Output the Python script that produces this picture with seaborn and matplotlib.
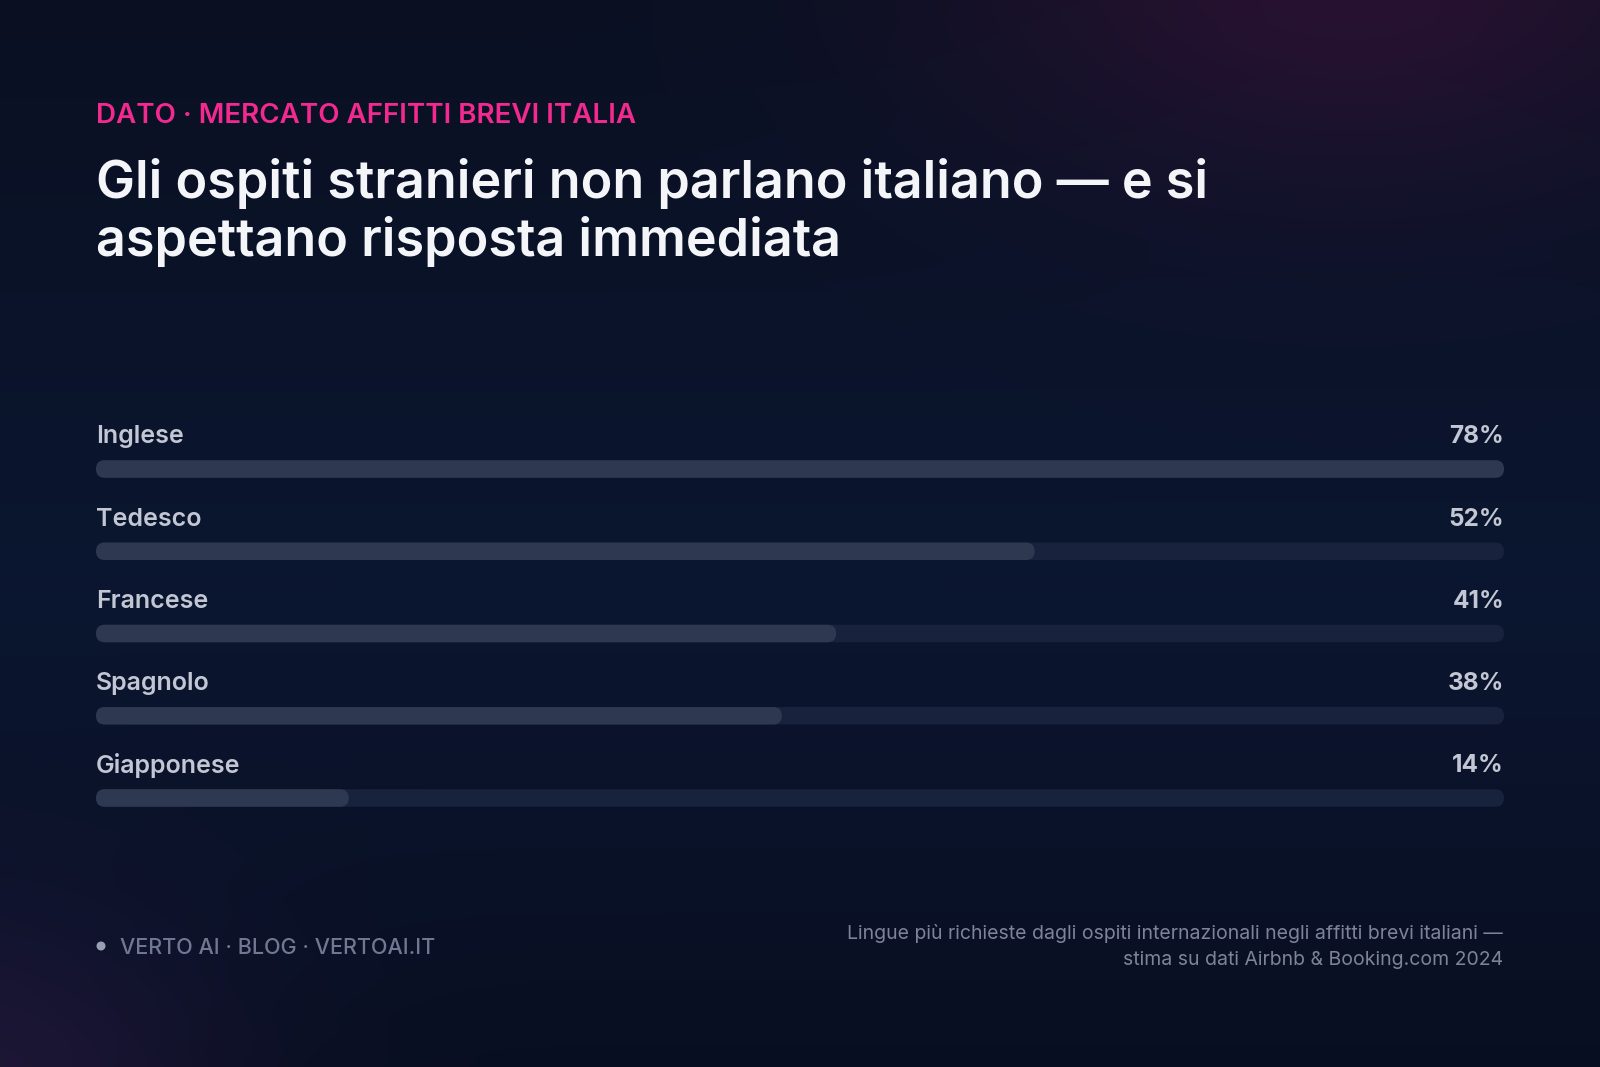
import numpy as np
import pandas as pd
import matplotlib.pyplot as plt
import seaborn as sns
from matplotlib.patches import FancyBboxPatch, Ellipse

# Dati
lingue = ['Inglese', 'Tedesco', 'Francese', 'Spagnolo', 'Giapponese']
quote = [78, 52, 41, 38, 14]
etichette = ['78%', '52%', '41%', '38%', '14%']
scala_max = 78

occhiello = 'DATO · MERCATO AFFITTI BREVI ITALIA'
titolo_1 = 'Gli ospiti stranieri non parlano italiano — e si'
titolo_2 = 'aspettano risposta immediata'
firma = 'VERTO AI · BLOG · VERTOAI.IT'
fonte_1 = 'Lingue più richieste dagli ospiti internazionali negli affitti brevi italiani —'
fonte_2 = 'stima su dati Airbnb & Booking.com 2024'

sns.set_theme(style='white')
plt.rcParams['font.family'] = ['Inter', 'DejaVu Sans']

W, H = 1600, 1067
fig = plt.figure(figsize=(16, 10.67), dpi=100)

# Sfondo sfumato
bg = fig.add_axes([0, 0, 1, 1])
bg.axis('off')
yy, xx = np.mgrid[0:H, 0:W].astype(float)
t = yy / H
top = np.array([10, 16, 34]) / 255
mid = np.array([11, 22, 48]) / 255
bot = np.array([8, 13, 30]) / 255
k = np.clip(1 - np.abs(t - 0.55) / 0.55, 0, 1)[..., None]
base = np.where((t < 0.55)[..., None], top * (1 - k) + mid * k, bot * (1 - k) + mid * k)
glow1 = np.exp(-(((xx - 1350) / 380) ** 2 + ((yy + 40) / 220) ** 2))[..., None]
glow2 = np.exp(-(((xx + 40) / 260) ** 2 + ((yy - 1110) / 200) ** 2))[..., None]
img = base + glow1 * (np.array([46, 18, 52]) / 255 - top) * 0.85 + glow2 * np.array([22, 8, 22]) / 255
bg.imshow(np.clip(img, 0, 1), extent=[0, 1, 0, 1], aspect='auto', zorder=0)
bg.set_xlim(0, 1)
bg.set_ylim(0, 1)

# Asse delle barre
ax_left, ax_w = 96, 1408
ax_top, ax_bot = 400, 830
row0, passo = 469, 82.25
ax = fig.add_axes([ax_left / W, 1 - ax_bot / H, ax_w / W, (ax_bot - ax_top) / H])
ax.set_facecolor('none')

df = pd.DataFrame({'lingua': lingue, 'quota': quote, 'fondo': [scala_max] * len(lingue)})
spessore = 17.5 / passo
sns.barplot(data=df, x='fondo', y='lingua', orient='h', color='#19223d', saturation=1,
            width=spessore, ax=ax)
sns.barplot(data=df, x='quota', y='lingua', orient='h', color='#2e3851', saturation=1,
            width=spessore, ax=ax)

ax.set_xlim(0, scala_max)
ax.set_ylim(4 + (ax_bot - (row0 + 4 * passo)) / passo, -(row0 - ax_top) / passo)
ax.axis('off')

# Estremi arrotondati
px_x = ax_w / scala_max
r_x = (17.5 / 2) / px_x
asp = (1 / passo) / (1 / px_x)
for p in list(ax.patches):
    x0, y0, w, h = p.get_x(), p.get_y(), p.get_width(), p.get_height()
    fc, z = p.get_facecolor(), p.get_zorder()
    p.remove()
    ax.add_patch(FancyBboxPatch((x0, y0), w, h,
                                boxstyle=f'round,pad=0,rounding_size={r_x}',
                                mutation_aspect=asp, fc=fc, ec='none', zorder=z))

for i, (lingua, et) in enumerate(zip(lingue, etichette)):
    ax.text(0, i - 0.39, lingua, ha='left', va='center', fontsize=18,
            fontweight='semibold', color='#c3c7d4')
    ax.text(scala_max, i - 0.39, et, ha='right', va='center', fontsize=17.5,
            fontweight='bold', color='#c3c7d4')

# Intestazione
fig.text(96 / W, 1 - 123 / H, occhiello, ha='left', va='baseline', fontsize=20,
         fontweight='semibold', color='#f2298f')
fig.text(96 / W, 1 - 198 / H, titolo_1, ha='left', va='baseline', fontsize=37.5,
         fontweight='semibold', color='#f4f5f9')
fig.text(96 / W, 1 - 256 / H, titolo_2, ha='left', va='baseline', fontsize=37.5,
         fontweight='semibold', color='#f4f5f9')

# Piede
fig.patches.append(Ellipse((101 / W, 1 - 946 / H), 9 / W, 9 / H,
                           transform=fig.transFigure, fc='#9aa0b4', ec='none'))
fig.text(120 / W, 1 - 954 / H, firma, ha='left', va='baseline', fontsize=15.5,
         fontweight='medium', color='#737892')
fig.text(1503 / W, 1 - 939 / H, fonte_1, ha='right', va='baseline', fontsize=14,
         color='#7e8399')
fig.text(1503 / W, 1 - 965 / H, fonte_2, ha='right', va='baseline', fontsize=14,
         color='#7e8399')

fig.savefig('out.png', dpi=100)
